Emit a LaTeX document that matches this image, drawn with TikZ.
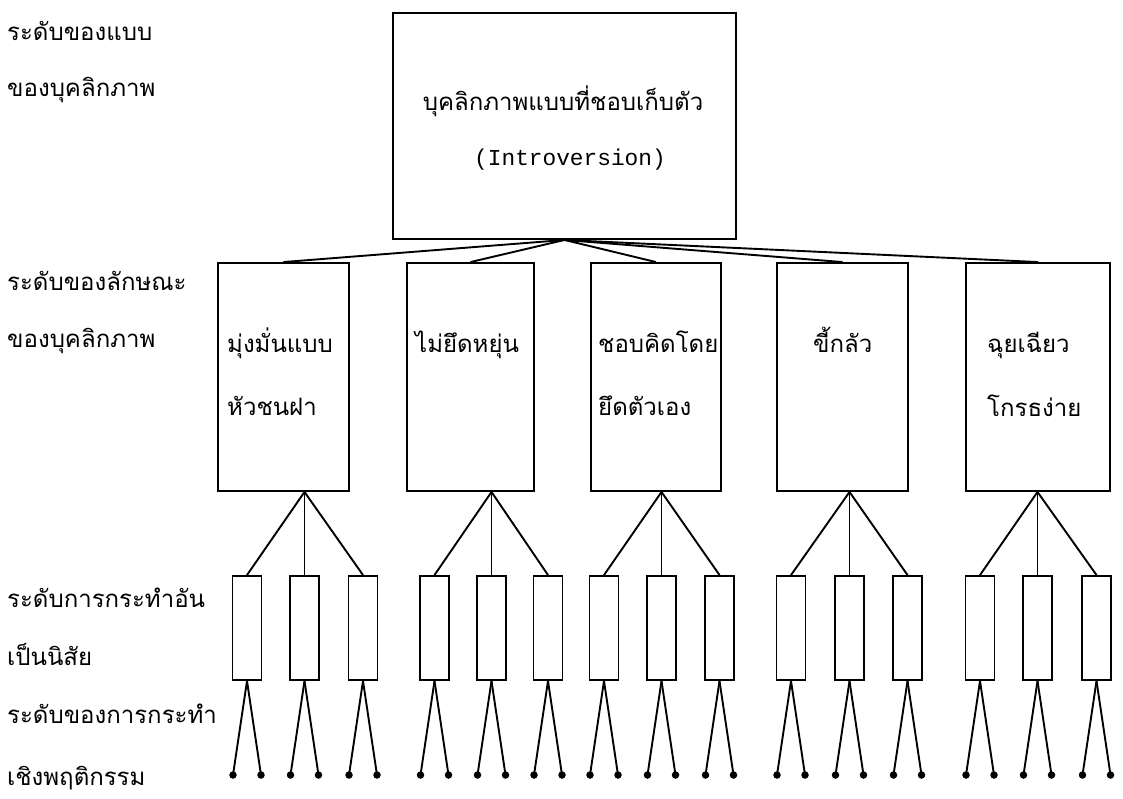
\documentclass[tikz,border=0pt]{standalone}
\usepackage{fontspec}
\newfontfamily\thai[Script=Thai]{Loma}
\setmonofont{Liberation Mono}
\begin{document}
\begin{tikzpicture}[x=1pt,y=-1pt,
  box/.style={draw,line width=1.9pt,inner sep=0pt,rectangle},
  lbl/.style={anchor=base west,inner sep=0pt,font=\thai\fontsize{24}{28}\selectfont},
  con/.style={line width=1.9pt},
  leaf/.style={circle,fill,inner sep=0pt,minimum size=7.5pt}]
\useasboundingbox (0,0) rectangle (1123,798);
% left level labels
\node[lbl] (L1) at (7,40) {ระดับของแบบ};
\node[lbl] (L2) at (7,96) {ของบุคลิกภาพ};
\node[lbl] (L3) at (7,290) {ระดับของลักษณะ};
\node[lbl] (L4) at (7,347) {ของบุคลิกภาพ};
\node[lbl] (L5) at (7,607) {ระดับการกระทำอัน};
\node[lbl] (L6) at (7,665) {เป็นนิสัย};
\node[lbl] (L7) at (7,723) {ระดับของการกระทำ};
\node[lbl] (L8) at (7,785) {เชิงพฤติกรรม};
% top box
\node[box,minimum width=343pt,minimum height=226pt] (top) at (564.5,126) {};
\node[lbl,anchor=base] (tt1) at (563,110) {บุคลิกภาพแบบที่ชอบเก็บตัว};
\node[font=\ttfamily\fontsize{22.8}{26}\selectfont,anchor=base,inner sep=0pt] (tt2) at (570,165) {(Introversion)};
% middle boxes
\foreach \i/\x/\w in {1/283.5/131,2/470.5/127,3/656/130,4/842.5/131,5/1038/144}
  \node[box,minimum width=\w pt,minimum height=228pt] (m\i) at (\x,377) {};
\node[lbl] (m1a) at (227,352) {มุ่งมั่นแบบ};
\node[lbl] (m1b) at (227,415) {หัวชนฝา};
\node[lbl] (m2a) at (415,352) {ไม่ยึดหยุ่น};
\node[lbl] (m3a) at (598,352) {ชอบคิดโดย};
\node[lbl] (m3b) at (598,415) {ยึดตัวเอง};
\node[lbl] (m4a) at (813,352) {ขี้กลัว};
\node[lbl] (m5a) at (987,352) {ฉุยเฉียว};
\node[lbl] (m5b) at (987,416) {โกรธง่าย};
\foreach \i in {1,...,5}
  \draw[con] (top.south) -- (m\i.north);
% small boxes and leaves
\foreach \g/\a/\b/\c in {1/247/304.5/363,2/434.5/491.5/548,3/604/661.5/719.5,4/791/849.5/907.5,5/980/1037.5/1096.5}{
  \foreach \k/\x in {1/\a,2/\b,3/\c}{
    \node[box,minimum width=29pt,minimum height=104pt] (s\g\k) at (\x,628) {};
    \node[leaf] (d\g\k a) at (\x-14,775) {};
    \node[leaf] (d\g\k b) at (\x+14,775) {};
  }
}
\foreach \g in {1,...,5}{
  \foreach \k in {1,2,3}{
    \draw[con] (s\g2 |- m\g.south) -- (s\g\k.north);
    \draw[con] (s\g\k.south) -- (d\g\k a.center);
    \draw[con] (s\g\k.south) -- (d\g\k b.center);
  }
}
\end{tikzpicture}
\end{document}
